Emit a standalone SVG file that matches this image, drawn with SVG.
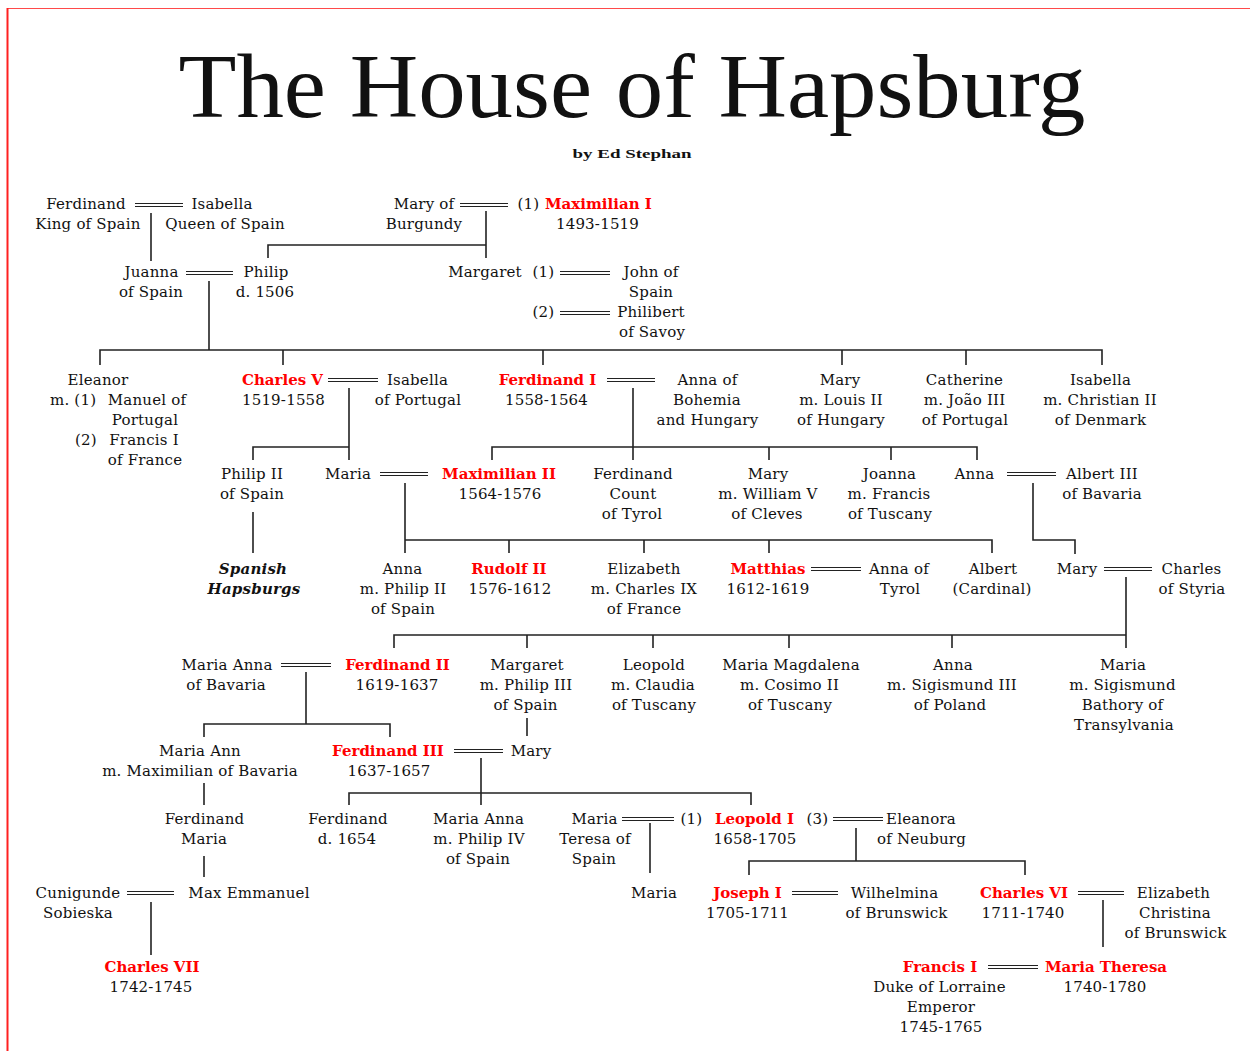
<svg xmlns="http://www.w3.org/2000/svg" width="1250" height="1051" viewBox="0 0 1250 1051">
<style>
text{font-family:"DejaVu Serif","Liberation Serif",serif;font-size:15px;fill:#111;text-anchor:middle;letter-spacing:0.2px}
.r{font-weight:bold;fill:#ff0000;letter-spacing:0}
.s{text-anchor:start}
.bi{font-weight:bold;font-style:italic}
.c{fill:none;stroke:#222;stroke-width:1.6}
.m{fill:none;stroke:#222;stroke-width:1.2}
</style>
<rect width="1250" height="1051" fill="#fff"/>
<line x1="7" y1="8.5" x2="1250" y2="8.5" stroke="#ff4a4a" stroke-width="1.2"/>
<line x1="7.5" y1="8" x2="7.5" y2="1051" stroke="#ff2020" stroke-width="2"/>
<g id="title">
<text x="632" y="117" style="font-family:'Liberation Serif',serif;font-size:90px;letter-spacing:0" textLength="907" lengthAdjust="spacingAndGlyphs">The House of Hapsburg</text>
<text x="632" y="158" style="font-family:'Liberation Serif',serif;font-size:13px;font-weight:bold;letter-spacing:0" textLength="119" lengthAdjust="spacingAndGlyphs">by Ed Stephan</text>
</g>
<g id="connectors">
<path class="c" d="M151,213V261 M268,258V245H486 M486,211V258 M209,281V350 M100,365V350H1102V365 M283,350V365 M543,350V365 M842,350V365 M966,350V365 M349,388V460 M253,460V447H349 M633,388V460 M492,460V447H977V460 M769,447V460 M891,447V460 M253,512V553 M405,483V553 M405,540H992V553 M509,540V553 M644,540V553 M769,540V553 M1033,483V540H1075V554 M1126,577V648 M394,648V635H1126 M527,635V648 M653,635V648 M789,635V648 M952,635V648 M306,672V724 M204,737V724H390V737 M527,718V736 M204,783V805 M481,758V805 M349,805V793H751V805 M204,856V877 M650,823V873 M856,828V861 M749,875V861H1025V875 M151,902V955 M1103,900V947"/>
<path class="m" d="M135,203.5H183M135,206.5H183 M460,203.5H508M460,206.5H508 M186,271.5H233M186,274.5H233 M560,271.5H610M560,274.5H610 M560,311.5H610M560,314.5H610 M328,378.5H378M328,381.5H378 M607,378.5H655M607,381.5H655 M380,472.5H428M380,475.5H428 M1007,472.5H1056M1007,475.5H1056 M811,567.5H861M811,570.5H861 M1104,567.5H1152M1104,570.5H1152 M281,663.5H331M281,666.5H331 M454,749.5H503M454,752.5H503 M622,817.5H674M622,820.5H674 M833,817.5H883M833,820.5H883 M127,891.5H174M127,894.5H174 M792,891.5H838M792,894.5H838 M1078,891.5H1124M1078,894.5H1124 M988,965.5H1038M988,968.5H1038"/>
</g>
<g id="n-ferdinand-spain"><text x="86" y="209">Ferdinand</text><text x="88" y="229">King of Spain</text></g>
<g id="n-isabella-spain"><text x="222" y="209">Isabella</text><text x="225" y="229">Queen of Spain</text></g>
<g id="n-mary-burgundy"><text x="424" y="209">Mary of</text><text x="424" y="229">Burgundy</text></g>
<g id="n-maximilian1"><text x="528.5" y="209">(1)</text><text class="r s" x="545" y="209">Maximilian I</text><text x="597.5" y="229">1493-1519</text></g>
<g id="n-juanna"><text x="151.5" y="277">Juanna</text><text x="151" y="297">of Spain</text></g>
<g id="n-philip"><text x="266" y="277">Philip</text><text x="265" y="297">d. 1506</text></g>
<g id="n-margaret"><text x="485" y="277">Margaret</text><text x="543.5" y="277">(1)</text><text x="543.5" y="317">(2)</text></g>
<g id="n-john"><text x="651" y="277">John of</text><text x="651" y="297">Spain</text></g>
<g id="n-philibert"><text x="651" y="317">Philibert</text><text x="652" y="337">of Savoy</text></g>
<g id="n-eleanor"><text x="98" y="385">Eleanor</text><text class="s" x="50" y="405">m. (1)</text><text x="147" y="405">Manuel of</text><text x="145" y="425">Portugal</text><text class="s" x="75" y="445">(2)</text><text x="144" y="445">Francis I</text><text x="145" y="465">of France</text></g>
<g id="n-charles5"><text class="r" x="282.5" y="385">Charles V</text><text x="283.5" y="405">1519-1558</text></g>
<g id="n-isabella-portugal"><text x="417.5" y="385">Isabella</text><text x="418" y="405">of Portugal</text></g>
<g id="n-ferdinand1"><text class="r" x="547.5" y="385">Ferdinand I</text><text x="546.5" y="405">1558-1564</text></g>
<g id="n-anna-bohemia"><text x="707.5" y="385">Anna of</text><text x="707" y="405">Bohemia</text><text x="707.5" y="425">and Hungary</text></g>
<g id="n-mary-hungary"><text x="840" y="385">Mary</text><text x="841" y="405">m. Louis II</text><text x="841" y="425">of Hungary</text></g>
<g id="n-catherine"><text x="964.5" y="385">Catherine</text><text x="964.5" y="405">m. João III</text><text x="965" y="425">of Portugal</text></g>
<g id="n-isabella-denmark"><text x="1100.5" y="385">Isabella</text><text x="1100" y="405">m. Christian II</text><text x="1100.5" y="425">of Denmark</text></g>
<g id="n-philip2"><text x="252" y="479">Philip II</text><text x="252" y="499">of Spain</text></g>
<g id="n-maria"><text x="348" y="479">Maria</text></g>
<g id="n-maximilian2"><text class="r" x="499" y="479">Maximilian II</text><text x="500" y="499">1564-1576</text></g>
<g id="n-ferdinand-tyrol"><text x="633" y="479">Ferdinand</text><text x="633" y="499">Count</text><text x="632" y="519">of Tyrol</text></g>
<g id="n-mary-cleves"><text x="768" y="479">Mary</text><text x="768" y="499">m. William V</text><text x="767" y="519">of Cleves</text></g>
<g id="n-joanna"><text x="889.5" y="479">Joanna</text><text x="889" y="499">m. Francis</text><text x="890" y="519">of Tuscany</text></g>
<g id="n-anna-bavaria"><text x="974.5" y="479">Anna</text></g>
<g id="n-albert3"><text x="1102" y="479">Albert III</text><text x="1102" y="499">of Bavaria</text></g>
<g id="n-spanish"><text class="bi" x="253" y="574">Spanish</text><text class="bi" x="254" y="594">Hapsburgs</text></g>
<g id="n-anna-spain"><text x="402.5" y="574">Anna</text><text x="403" y="594">m. Philip II</text><text x="403" y="614">of Spain</text></g>
<g id="n-rudolf2"><text class="r" x="509" y="574">Rudolf II</text><text x="510" y="594">1576-1612</text></g>
<g id="n-elizabeth-france"><text x="644" y="574">Elizabeth</text><text x="644" y="594">m. Charles IX</text><text x="644" y="614">of France</text></g>
<g id="n-matthias"><text class="r" x="768" y="574">Matthias</text><text x="768" y="594">1612-1619</text></g>
<g id="n-anna-tyrol"><text x="899" y="574">Anna of</text><text x="900" y="594">Tyrol</text></g>
<g id="n-albert-cardinal"><text x="993" y="574">Albert</text><text x="992" y="594">(Cardinal)</text></g>
<g id="n-mary-styria"><text x="1077" y="574">Mary</text></g>
<g id="n-charles-styria"><text x="1191.5" y="574">Charles</text><text x="1192" y="594">of Styria</text></g>
<g id="n-maria-anna-bavaria"><text x="227" y="670">Maria Anna</text><text x="226" y="690">of Bavaria</text></g>
<g id="n-ferdinand2"><text class="r" x="397.5" y="670">Ferdinand II</text><text x="397" y="690">1619-1637</text></g>
<g id="n-margaret-spain"><text x="527" y="670">Margaret</text><text x="526" y="690">m. Philip III</text><text x="525.5" y="710">of Spain</text></g>
<g id="n-leopold"><text x="654" y="670">Leopold</text><text x="653" y="690">m. Claudia</text><text x="654" y="710">of Tuscany</text></g>
<g id="n-maria-magdalena"><text x="791" y="670">Maria Magdalena</text><text x="789.5" y="690">m. Cosimo II</text><text x="790" y="710">of Tuscany</text></g>
<g id="n-anna-poland"><text x="953" y="670">Anna</text><text x="952" y="690">m. Sigismund III</text><text x="950" y="710">of Poland</text></g>
<g id="n-maria-transylvania"><text x="1123" y="670">Maria</text><text x="1122.5" y="690">m. Sigismund</text><text x="1122.5" y="710">Bathory of</text><text x="1124" y="730">Transylvania</text></g>
<g id="n-maria-ann"><text x="200" y="756">Maria Ann</text><text x="200" y="776">m. Maximilian of Bavaria</text></g>
<g id="n-ferdinand3"><text class="r" x="388" y="756">Ferdinand III</text><text x="389" y="776">1637-1657</text></g>
<g id="n-mary-spain"><text x="531" y="756">Mary</text></g>
<g id="n-ferdinand-maria"><text x="204.5" y="824">Ferdinand</text><text x="204" y="844">Maria</text></g>
<g id="n-ferdinand-1654"><text x="348" y="824">Ferdinand</text><text x="347" y="844">d. 1654</text></g>
<g id="n-maria-anna-spain"><text x="478.5" y="824">Maria Anna</text><text x="479" y="844">m. Philip IV</text><text x="478" y="864">of Spain</text></g>
<g id="n-maria-teresa"><text x="594.5" y="824">Maria</text><text x="595" y="844">Teresa of</text><text x="594" y="864">Spain</text></g>
<g id="n-leopold1"><text x="691.5" y="824">(1)</text><text class="r" x="754.5" y="824">Leopold I</text><text x="755" y="844">1658-1705</text><text x="817.5" y="824">(3)</text></g>
<g id="n-eleanora"><text x="921" y="824">Eleanora</text><text x="921.5" y="844">of Neuburg</text></g>
<g id="n-cunigunde"><text x="78" y="898">Cunigunde</text><text x="78" y="918">Sobieska</text></g>
<g id="n-max-emmanuel"><text x="249" y="898">Max Emmanuel</text></g>
<g id="n-maria-daughter"><text x="654" y="898">Maria</text></g>
<g id="n-joseph1"><text class="r" x="747.5" y="898">Joseph I</text><text x="747.5" y="918">1705-1711</text></g>
<g id="n-wilhelmina"><text x="894.5" y="898">Wilhelmina</text><text x="896.5" y="918">of Brunswick</text></g>
<g id="n-charles6"><text class="r" x="1024" y="898">Charles VI</text><text x="1023" y="918">1711-1740</text></g>
<g id="n-elizabeth-christina"><text x="1173.5" y="898">Elizabeth</text><text x="1175" y="918">Christina</text><text x="1175.5" y="938">of Brunswick</text></g>
<g id="n-charles7"><text class="r" x="152" y="972">Charles VII</text><text x="151" y="992">1742-1745</text></g>
<g id="n-francis1"><text class="r" x="940" y="972">Francis I</text><text x="939.5" y="992">Duke of Lorraine</text><text x="941" y="1012">Emperor</text><text x="941" y="1032">1745-1765</text></g>
<g id="n-maria-theresa"><text class="r" x="1106" y="972">Maria Theresa</text><text x="1105" y="992">1740-1780</text></g>
</svg>
